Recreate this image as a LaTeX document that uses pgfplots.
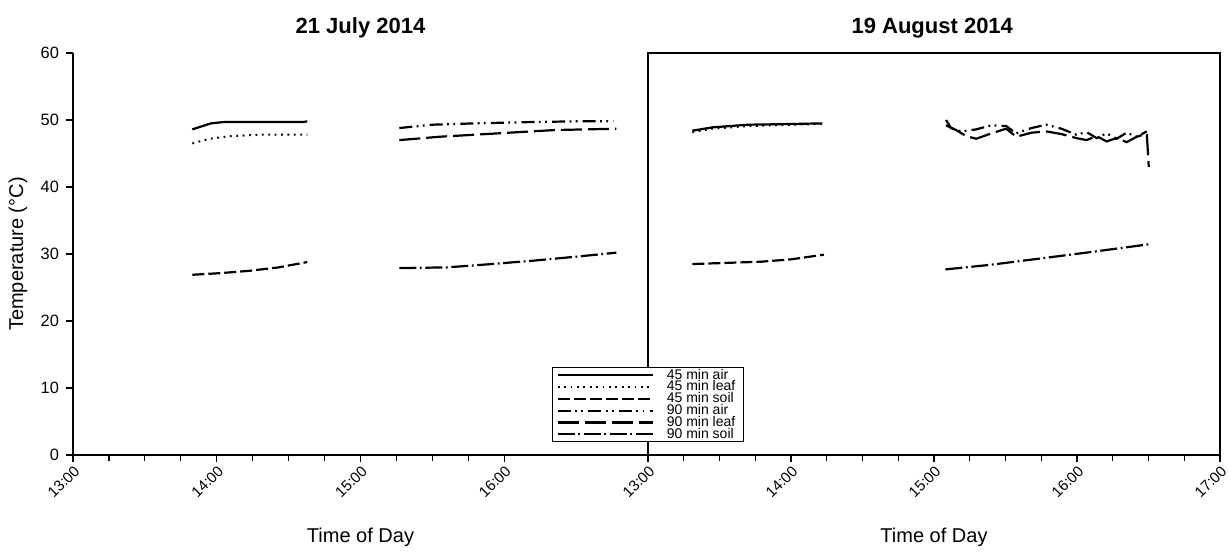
\documentclass[border=0pt]{standalone}
\usepackage{pgfplots}
\pgfplotsset{compat=1.18}
\usepackage{fontspec}
\setmainfont{Liberation Sans}

% line styles for the six series
\tikzset{
  s45air/.style={black, line width=1.1pt, solid},
  s45leaf/.style={black, line width=1.0pt, dash pattern=on 0.9pt off 2.3pt},
  s45soil/.style={black, line width=1.1pt, dash pattern=on 6pt off 2pt},
  s90air/.style={black, line width=1.1pt, dash pattern=on 6.5pt off 2.2pt on 0.9pt off 2.2pt on 0.9pt off 2.6pt},
  s90leaf/.style={black, line width=1.1pt, dash pattern=on 10.5pt off 3pt},
  s90soil/.style={black, line width=1.1pt, dash pattern=on 8.5pt off 1.8pt on 0.9pt off 1.8pt},
}

\pgfplotsset{
  panel/.style={
    scale only axis,
    width=287.5pt, height=201pt,
    xmin=13, xmax=17, ymin=0, ymax=60,
    minor x tick num=3,
    tick align=outside,
    major tick length=3.5pt, minor tick length=3pt,
    tick style={black, line width=0.6pt},
    axis line style={black, line width=0.7pt},
    xticklabel style={rotate=45, anchor=north east, inner sep=0.8pt, font=\fontsize{7.5}{8}\selectfont},
    yticklabel style={font=\fontsize{8.2}{9}\selectfont},
    /pgf/number format/assume math mode=true,
    label style={font=\fontsize{8}{9}\selectfont},
    xlabel={Time of Day},
    every axis x label/.style={at={(axis description cs:0.5,-0.204)}, anchor=center},
    clip=false,
  },
}

\begin{document}
\begin{tikzpicture}
\path[use as bounding box] (0,0) rectangle (614pt,276pt);

% ---------------- 21 July 2014 ----------------
\begin{axis}[panel,
  at={(36.5pt,48.5pt)}, anchor=south west,
  axis x line*=bottom, axis y line*=left,
  xtick={13,14,15,16},
  xticklabels={13:00,14:00,15:00,16:00},
  ytick={0,10,...,60},
  ylabel={Temperature (°C)},
  every axis y label/.style={at={(axis description cs:-0.0957,0.5)}, rotate=90, anchor=center},
]
\addplot[s45air] coordinates {(13.83,48.6) (13.96,49.5) (14.05,49.7) (14.35,49.7) (14.60,49.7) (14.63,49.8)};
\addplot[s45leaf] coordinates {(13.83,46.5) (13.95,47.2) (14.10,47.6) (14.30,47.8) (14.63,47.8)};
\addplot[s45soil] coordinates {(13.83,26.9) (14.03,27.15) (14.23,27.5) (14.43,28.0) (14.63,28.8)};
\addplot[s90air] coordinates {(15.27,48.8) (15.50,49.3) (15.80,49.5) (16.20,49.7) (16.50,49.8) (16.76,49.8)};
\addplot[s90leaf] coordinates {(15.27,47.0) (15.55,47.5) (15.95,48.0) (16.35,48.5) (16.78,48.7)};
\addplot[s90soil] coordinates {(15.27,27.9) (15.60,28.0) (15.85,28.4) (16.20,29.0) (16.50,29.6) (16.78,30.2)};
\node[font=\bfseries\fontsize{11}{13}\selectfont] at (rel axis cs:0.5,1.062) {21 July 2014};
\end{axis}

% ---------------- 19 August 2014 ----------------
\begin{axis}[panel,
  at={(324pt,48.5pt)}, anchor=south west,
  width=286pt,
  xtick={13,14,15,16,17},
  xticklabels={13:00,14:00,15:00,16:00,17:00},
  xtick pos=bottom,
  ytick=\empty,
  legend cell align=left,
  legend style={at={(-0.168,0.219)}, anchor=north west,
    draw=black, line width=0.75pt, fill=white,
    font=\fontsize{7}{8}\selectfont,
    inner xsep=2pt, inner ysep=0.8pt,
    row sep=0pt,
    /tikz/every odd column/.append style={column sep=4.5pt},
    nodes={text height=4.9pt, text depth=1.0pt, inner ysep=0pt, inner xsep=2pt}},
  legend image code/.code={\draw[#1] (0pt,0pt) -- (47.5pt,0pt);},
]
\addplot[s45air] coordinates {(13.31,48.4) (13.45,48.9) (13.70,49.3) (14.00,49.4) (14.22,49.5)};
\addlegendentry{45 min air}
\addplot[s45leaf] coordinates {(13.31,48.2) (13.45,48.7) (13.70,49.1) (14.00,49.3) (14.22,49.4)};
\addlegendentry{45 min leaf}
\addplot[s45soil] coordinates {(13.31,28.5) (13.79,28.85) (14.00,29.2) (14.23,29.9)};
\addlegendentry{45 min soil}
\addplot[s90air] coordinates {
  (15.084,50.0) (15.119,48.8) (15.189,48.3) (15.295,48.6) (15.400,49.2)
  (15.505,49.1) (15.575,48.0) (15.681,48.8) (15.786,49.3) (15.891,48.7)
  (15.996,47.8) (16.067,48.2) (16.137,47.3) (16.207,48.0) (16.277,47.2)
  (16.347,48.1) (16.418,47.5) (16.488,48.3)};
\addlegendentry{90 min air}
\addplot[s90leaf] coordinates {
  (15.084,49.2) (15.154,48.5) (15.225,47.6) (15.295,47.2) (15.400,48.0)
  (15.505,48.7) (15.575,47.5) (15.681,48.1) (15.786,48.3) (15.891,47.9)
  (15.996,47.3) (16.067,47.0) (16.137,47.6) (16.207,46.8) (16.277,47.3)
  (16.347,46.7) (16.418,47.5) (16.488,48.0) (16.502,43.0)};
\addlegendentry{90 min leaf}
\addplot[s90soil] coordinates {(15.08,27.7) (15.40,28.4) (15.77,29.4) (16.10,30.3) (16.52,31.5)};
\addlegendentry{90 min soil}
\node[font=\bfseries\fontsize{11}{13}\selectfont] at (rel axis cs:0.497,1.062) {19 August 2014};
\end{axis}
\end{tikzpicture}
\end{document}
